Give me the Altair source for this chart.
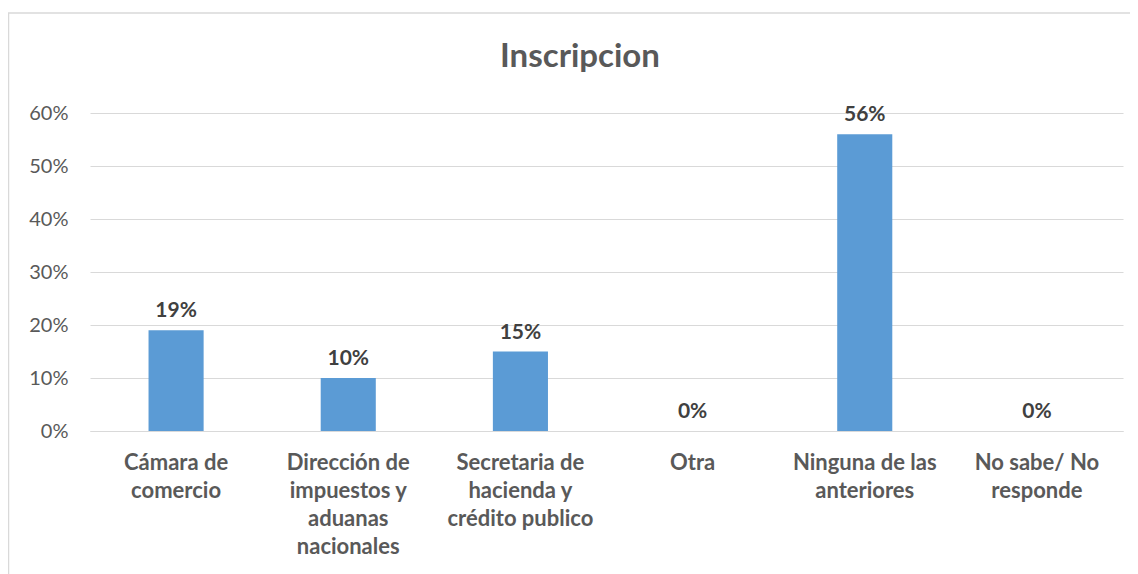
import altair as alt
import pandas as pd

categories = [
    "Cámara de\ncomercio",
    "Dirección de\nimpuestos y\naduanas\nnacionales",
    "Secretaria de\nhacienda y\ncrédito publico",
    "Otra",
    "Ninguna de las\nanteriores",
    "No sabe/ No\nresponde",
]
values = [0.19, 0.10, 0.15, 0.0, 0.56, 0.0]
labels = ["19%", "10%", "15%", "0%", "56%", "0%"]
y_ticks = [0, 0.1, 0.2, 0.3, 0.4, 0.5, 0.6]

df = pd.DataFrame({"cat": categories, "val": values, "lab": labels})

FONT = "Lato"
W, H = 1033, 318

x_enc = alt.X(
    "cat:N",
    sort=categories,
    scale=alt.Scale(paddingInner=0.68, paddingOuter=0.34),
    axis=alt.Axis(
        title=None,
        labelAngle=0,
        labelExpr="split(datum.label, '\\n')",
        labelFont=FONT,
        labelFontSize=22,
        labelFontWeight="bold",
        labelColor="#595959",
        labelPadding=21,
        labelLineHeight=28,
        ticks=False,
        domainColor="#d9d9d9",
        domainWidth=1,
        labelLimit=300,
        grid=False,
    ),
)
y_enc = alt.Y(
    "val:Q",
    scale=alt.Scale(domain=[0, 0.6], nice=False),
    axis=alt.Axis(
        title=None,
        values=y_ticks,
        format=".0%",
        labelFont=FONT,
        labelFontSize=20,
        labelColor="#595959",
        labelPadding=22,
        ticks=False,
        domain=False,
        gridColor="#d9d9d9",
        gridWidth=1,
    ),
)

base = alt.Chart(df)

bars = base.mark_bar(color="#5B9BD5").encode(x=x_enc, y=y_enc)

text = base.mark_text(
    font=FONT, fontSize=21, fontWeight="bold", color="#404040",
    baseline="alphabetic", dy=-13,
).encode(x=x_enc, y=y_enc, text="lab:N")

title = alt.Chart(pd.DataFrame({"t": ["Inscripcion"]})).mark_text(
    font=FONT, fontSize=33, fontWeight="bold", color="#595959",
    align="center", baseline="middle",
).encode(x=alt.value(490), y=alt.value(-56), text="t:N")

frame = alt.Chart(pd.DataFrame({"a": [0]})).mark_rect(
    fill="transparent", stroke="#d9d9d9", strokeWidth=1.5,
).encode(x=alt.value(-81.5), x2=alt.value(1200), y=alt.value(-100), y2=alt.value(600))

chart = alt.layer(frame, bars, text, title).properties(
    width=W, height=H,
    autosize=alt.AutoSizeParams(type="none"),
    padding={"left": 82, "top": 105, "right": 7, "bottom": 143},
).configure(background="white").configure_view(
    stroke="transparent", strokeWidth=0, strokeOpacity=0
)

chart.save("out.html", embed_options={"renderer": "svg", "actions": False})
